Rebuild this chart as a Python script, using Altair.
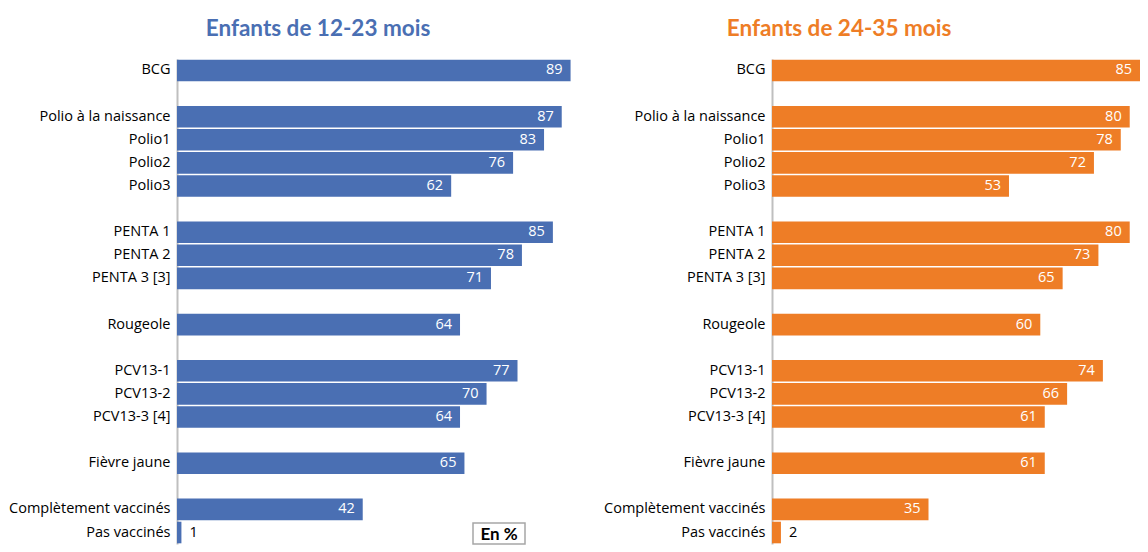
import altair as alt
import pandas as pd

vaccins = ["BCG", "Polio à la naissance", "Polio1", "Polio2", "Polio3",
           "PENTA 1", "PENTA 2", "PENTA 3 [3]", "Rougeole",
           "PCV13-1", "PCV13-2", "PCV13-3 [4]", "Fièvre jaune",
           "Complètement vaccinés", "Pas vaccinés"]
groupes = [0, 1, 1, 1, 1, 2, 2, 2, 3, 4, 4, 4, 5, 6, 6]
val_12_23 = [89, 87, 83, 76, 62, 85, 78, 71, 64, 77, 70, 64, 65, 42, 1]
val_24_35 = [85, 80, 78, 72, 53, 80, 73, 65, 60, 74, 66, 61, 61, 35, 2]

# category order with blank separator rows between groups
ordre = []
prev = None
for v, g in zip(vaccins, groupes):
    if prev is not None and g != prev:
        ordre.append(f"gap{g}")
    ordre.append(v)
    prev = g

FONT = "Open Sans"
TFONT = "Lato"
PLOT_H = 485


def panel(values, color, title, xmax, width, title_dx, with_box=False):
    df = pd.DataFrame({"vaccin": vaccins, "v": values})
    base = alt.Chart(df).encode(
        y=alt.Y("vaccin:N", sort=ordre,
                scale=alt.Scale(domain=ordre, paddingInner=0.065, paddingOuter=0.03),
                axis=alt.Axis(title=None, ticks=False, domainColor="#bfbfbf", domainWidth=2,
                              labelFont=FONT, labelFontSize=14.5, labelColor="#000000",
                              labelPadding=7, minExtent=169, maxExtent=169, labelLimit=0,
                              labelExpr="indexof(datum.label, 'gap') == 0 ? '' : datum.label"))
    )
    xs = alt.Scale(domain=[0, xmax], nice=False, zero=True)
    bars = base.mark_bar(color=color, clip=True).encode(
        x=alt.X("v:Q", scale=xs, axis=None)
    )
    inside = base.transform_filter("datum.v >= 10").transform_calculate(
        xp=f"min(datum.v, {xmax})"
    ).mark_text(align="right", baseline="middle", dx=-8, color="white",
                font=FONT, fontSize=14.5).encode(
        x=alt.X("xp:Q", scale=xs, axis=None), text="v:Q"
    )
    outside = base.transform_filter("datum.v < 10").mark_text(
        align="left", baseline="middle", dx=8, color="black",
        font=FONT, fontSize=14.5).encode(
        x=alt.X("v:Q", scale=xs, axis=None), text="v:Q"
    )
    layers = [bars, inside, outside]
    if with_box:
        box_df = pd.DataFrame({"t": ["En %"]})
        box = alt.Chart(box_df).mark_rect(fill="white", stroke="#a6a6a6", strokeWidth=1.5).encode(
            x=alt.value(296), x2=alt.value(348), y=alt.value(464), y2=alt.value(PLOT_H)
        )
        box_t = alt.Chart(box_df).mark_text(font=TFONT, fontSize=17, fontWeight="bold",
                                            baseline="middle", align="center").encode(
            x=alt.value(322), y=alt.value(476), text="t:N"
        )
        layers += [box, box_t]
    return alt.layer(*layers).properties(
        width=width, height=PLOT_H,
        title=alt.TitleParams(title, color=color, font=TFONT, fontSize=22.5, fontWeight="bold",
                              anchor="middle", dx=title_dx, offset=19)
    )


left = panel(val_12_23, "#4a6fb3", "Enfants de 12-23 mois", 90, 398, -58, with_box=True)
right = panel(val_24_35, "#ee7d26", "Enfants de 24-35 mois", 82.3, 368, -117)

chart = alt.hconcat(left, right, spacing=28).properties(
    padding={"left": 0, "top": 9, "right": 0, "bottom": 0}
).configure_view(stroke=None).resolve_scale(x="independent", y="independent")

chart.save("out.html", embed_options={"renderer": "svg", "actions": False})
